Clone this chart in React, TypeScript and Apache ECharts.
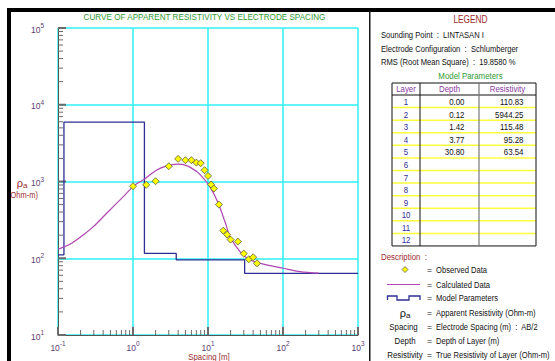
import React, { useEffect, useRef } from 'react';
import * as echarts from 'echarts';

// ---- data ----
const spacing = [1, 1.5, 2, 3, 4, 5, 6, 7, 8, 9, 10, 11, 12, 14, 16, 18, 20, 25, 30, 35, 40, 45];
const observedRho = [869, 904, 1009, 1581, 1972, 1897, 1897, 1763, 1734, 1403, 1183, 912, 809, 500, 229, 203, 175, 165, 115, 97, 103, 86];

const calcSpacing = [0.1, 0.124, 0.152, 0.217, 0.296, 0.446, 0.743, 1.06, 1.37, 2.07, 2.81, 3.82, 5.2, 7.06, 8.65, 10.6, 13.7, 17.7, 19.6, 26.7, 36.3, 60.6, 101, 169, 300];
const calcRho = [131, 142, 157, 201, 258, 386, 635, 904, 1050, 1416, 1597, 1683, 1612, 1346, 1104, 857, 521, 258, 191, 122, 95, 82, 74, 67, 64];

const layerNo = [1, 2, 3, 4, 5, 6, 7, 8, 9, 10, 11, 12];
const layerDepth = [0.0, 0.12, 1.42, 3.77, 30.8];
const layerRes = [110.83, 5944.25, 115.48, 95.28, 63.54];

const xDecades = [0.1, 1, 10, 100, 1000];
const yDecades = [10, 100, 1000, 10000, 100000];
const minorMult = [2, 3, 4, 5, 6, 7, 8, 9];

const titleText = 'CURVE OF APPARENT RESISTIVITY VS ELECTRODE SPACING';
const infoLines = [
  ['Sounding Point', 'LINTASAN I'],
  ['Electrode Configuration', 'Schlumberger'],
  ['RMS (Root Mean Square)', '19.8580 %'],
];
const tableHeaders = ['Layer', 'Depth', 'Resistivity'];
const descTexts = [
  'Observed Data',
  'Calculated Data',
  'Model Parameters',
  'Apparent Resistivity (Ohm-m)',
  'Electrode Spacing (m)  :  AB/2',
  'Depth of Layer (m)',
  'True Resistivity of Layer (Ohm-m)',
];

const FONT = 'Arial, "Liberation Sans", sans-serif';
const LABEL_COLOR = '#5a3d70';
const RED = '#9b2b2e';
const GREEN = '#2f9a32';
const NAVY = '#2e2e96';
const PURPLE = '#b045b4';
const CYAN = '#2ef0f5';

function txt(x: number, y: number, text: string, fill: string, align = 'left', size = 9.5, sx = 0.83, extra: any = {}) {
  return {
    type: 'text',
    x,
    y,
    scaleX: sx,
    z: 100,
    style: { text, x: 0, y: 0, fill, align, verticalAlign: 'middle', fontSize: size, fontFamily: FONT, ...extra },
  };
}

export default function App() {
  const ref = useRef<HTMLDivElement>(null);
  useEffect(() => {
    document.body.style.margin = '0';
    const chart = echarts.init(ref.current!, null, { renderer: 'svg' });

    const xMin = 0.1, xMax = 1000;
    const modelLine: number[][] = [];
    for (let i = 0; i < layerRes.length; i++) {
      const start = i === 0 ? xMin : layerDepth[i];
      const end = i < layerRes.length - 1 ? layerDepth[i + 1] : xMax;
      modelLine.push([start, layerRes[i]], [end, layerRes[i]]);
    }

    const xTicks: number[][] = [];
    for (let k = 0; k < xDecades.length; k++) {
      xTicks.push([xDecades[k], 10, 8, 2]);
      if (k < xDecades.length - 1) minorMult.forEach(m => xTicks.push([m * xDecades[k], 10, 5, 1]));
    }
    const yTicks: number[][] = [];
    for (let k = 0; k < yDecades.length; k++) {
      yTicks.push([0.1, yDecades[k], 8, 2]);
      if (k < yDecades.length - 1) minorMult.forEach(m => yTicks.push([0.1, m * yDecades[k], 5, 1]));
    }

    const labelFmt = (v: number) => `{b|10}{s|${Math.round(Math.log10(v))}}`;
    const rich = {
      b: { fontSize: 8.5, color: LABEL_COLOR, fontFamily: FONT, verticalAlign: 'bottom', lineHeight: 12 },
      s: { fontSize: 6.5, color: LABEL_COLOR, fontFamily: FONT, verticalAlign: 'top' },
    };

    // table geometry
    const tL = 392, tR = 536, tTop = 83, tHead = 95, rowH = 12.58;
    const c1 = 420, c2 = 479;
    const tBottom = tHead + rowH * layerNo.length;

    const graphics: any[] = [];
    // frame
    graphics.push({ type: 'rect', shape: { x: 7, y: 8, width: 548, height: 4 }, style: { fill: '#000' }, z: 200 });
    graphics.push({ type: 'rect', shape: { x: 7, y: 8, width: 4, height: 353 }, style: { fill: '#000' }, z: 200 });
    graphics.push({ type: 'rect', shape: { x: 369, y: 11, width: 1.5, height: 350 }, style: { fill: '#1a1a1a' }, z: 200 });

    // chart texts
    graphics.push(txt(204.5, 16.5, titleText, GREEN, 'center', 9.8, 0.83));
    graphics.push(txt(22, 183, 'ρ{a|a}', RED, 'center', 11, 1, { rich: { a: { fontSize: 8, fill: RED, verticalAlign: 'bottom', padding: [4, 0, 0, 0] } } }));
    graphics.push(txt(23, 195, '(Ohm-m)', RED, 'center', 9, 0.83));
    graphics.push(txt(209, 356.5, 'Spacing [m]', RED, 'center', 9.5, 0.83));

    // legend panel
    graphics.push(txt(470.5, 20, 'LEGEND', RED, 'center', 10, 0.83));
    infoLines.forEach((l, i) => {
      graphics.push(txt(381, 34.5 + i * 13.8, `${l[0]}  :  ${l[1]}`, '#111', 'left', 9.5, 0.8));
    });
    graphics.push(txt(470.5, 76, 'Model Parameters', GREEN, 'center', 9.5, 0.83));

    // table
    for (let i = 1; i < layerNo.length; i++) {
      const y = tHead + rowH * i;
      graphics.push({ type: 'line', shape: { x1: tL, y1: y, x2: tR, y2: y }, style: { stroke: '#ffff3c', lineWidth: 1.5 }, z: 50 });
    }
    graphics.push({ type: 'rect', shape: { x: tL, y: tTop, width: tR - tL, height: tBottom - tTop }, style: { fill: 'none', stroke: '#111', lineWidth: 1 }, z: 60 });
    graphics.push({ type: 'line', shape: { x1: tL, y1: tHead, x2: tR, y2: tHead }, style: { stroke: '#111', lineWidth: 1 }, z: 60 });
    graphics.push({ type: 'line', shape: { x1: c1, y1: tTop, x2: c1, y2: tBottom }, style: { stroke: '#111', lineWidth: 1 }, z: 60 });
    graphics.push({ type: 'line', shape: { x1: c2, y1: tTop, x2: c2, y2: tBottom }, style: { stroke: '#777', lineWidth: 1.2 }, z: 60 });
    const headerX = [(tL + c1) / 2, (c1 + c2) / 2, (c2 + tR) / 2];
    tableHeaders.forEach((h, i) => graphics.push(txt(headerX[i], 89, h, '#8a3aa0', 'center', 9.5, 0.83)));
    layerNo.forEach((n, i) => {
      const y = tHead + rowH * (i + 0.5) + 0.5;
      graphics.push(txt(headerX[0], y, String(n), NAVY, 'center', 9.5, 0.83));
      if (i < layerDepth.length) {
        graphics.push(txt(464.5, y, layerDepth[i].toFixed(2), '#111', 'right', 9.5, 0.83));
        graphics.push(txt(523.5, y, layerRes[i].toFixed(2), '#111', 'right', 9.5, 0.83));
      }
    });

    // description
    graphics.push(txt(381, 256.5, 'Description  :', RED, 'left', 9.5, 0.83));
    const dY = [270, 284.5, 298, 313, 326.5, 340.5, 354.5];
    graphics.push({ type: 'polygon', shape: { points: [[405, 266.5], [408, 269.5], [405, 272.5], [402, 269.5]] }, style: { fill: '#ffff00', stroke: '#555', lineWidth: 0.8 }, z: 100 });
    graphics.push({ type: 'line', shape: { x1: 387, y1: 284.5, x2: 420, y2: 284.5 }, style: { stroke: PURPLE, lineWidth: 1.2 }, z: 100 });
    graphics.push({ type: 'polyline', shape: { points: [[387.5, 300], [387.5, 296], [397, 296], [397, 300], [409, 300], [409, 296], [420, 296], [420, 300]] }, style: { stroke: NAVY, lineWidth: 1.3, fill: 'none' }, z: 100 });
    graphics.push(txt(405, 313, 'ρ{a|a}', '#111', 'center', 11, 1, { rich: { a: { fontSize: 8, fill: '#111', verticalAlign: 'bottom', padding: [4, 0, 0, 0] } } }));
    graphics.push(txt(403.5, 326.5, 'Spacing', '#111', 'center', 9.5, 0.83));
    graphics.push(txt(405, 340.5, 'Depth', '#111', 'center', 9.5, 0.83));
    graphics.push(txt(405, 354.5, 'Resistivity', '#111', 'center', 9.5, 0.83));
    descTexts.forEach((d, i) => {
      graphics.push(txt(429.5, dY[i], '=', '#111', 'center', 9.5, 0.9));
      graphics.push(txt(436, dY[i], d, '#111', 'left', 9.5, 0.8));
    });

    const tickRender = (horizontal: boolean) => (params: any, api: any) => {
      const p = api.coord([api.value(0), api.value(1)]);
      const len = api.value(2);
      const w = api.value(3);
      return {
        type: 'line',
        shape: horizontal
          ? { x1: p[0], y1: p[1], x2: p[0], y2: p[1] - len }
          : { x1: p[0], y1: p[1], x2: p[0] + len, y2: p[1] },
        style: { stroke: '#6b6b6b', lineWidth: w },
        z2: 5,
      };
    };

    chart.setOption({
      animation: false,
      backgroundColor: '#fff',
      grid: { left: 58, top: 28, width: 300, height: 307, containLabel: false },
      xAxis: {
        type: 'log',
        logBase: 10,
        min: xMin,
        max: xMax,
        axisLine: { show: true, lineStyle: { color: '#555', width: 1 } },
        axisTick: { show: false },
        splitLine: { show: true, lineStyle: { color: CYAN, width: 1.5 } },
        axisLabel: { formatter: labelFmt, rich, margin: 5 },
      },
      yAxis: {
        type: 'log',
        logBase: 10,
        min: 10,
        max: 100000,
        axisLine: { show: true, lineStyle: { color: '#555', width: 1 } },
        axisTick: { show: false },
        splitLine: { show: true, lineStyle: { color: CYAN, width: 1.5 } },
        axisLabel: { formatter: labelFmt, rich, margin: 14 },
      },
      series: [
        {
          type: 'custom',
          renderItem: tickRender(true),
          data: xTicks,
          encode: { x: 0, y: 1 },
          clip: false,
          silent: true,
          z: 3,
        },
        {
          type: 'custom',
          renderItem: tickRender(false),
          data: yTicks,
          encode: { x: 0, y: 1 },
          clip: false,
          silent: true,
          z: 3,
        },
        {
          type: 'line',
          data: modelLine,
          showSymbol: false,
          lineStyle: { color: NAVY, width: 1.3 },
          z: 4,
        },
        {
          type: 'line',
          data: calcSpacing.map((x, i) => [x, calcRho[i]]),
          smooth: 0.3,
          showSymbol: false,
          lineStyle: { color: PURPLE, width: 1.2 },
          z: 5,
        },
        {
          type: 'scatter',
          data: spacing.map((x, i) => [x, observedRho[i]]),
          symbol: 'diamond',
          symbolSize: 7,
          itemStyle: { color: '#ffff00', borderColor: '#5a5a3a', borderWidth: 0.8, opacity: 1 },
          z: 6,
        },
      ],
      graphic: graphics,
    });
    return () => chart.dispose();
  }, []);
  return <div ref={ref} style={{ position: 'fixed', left: 0, top: 0, width: 555, height: 361, background: '#fff' }} />;
}
